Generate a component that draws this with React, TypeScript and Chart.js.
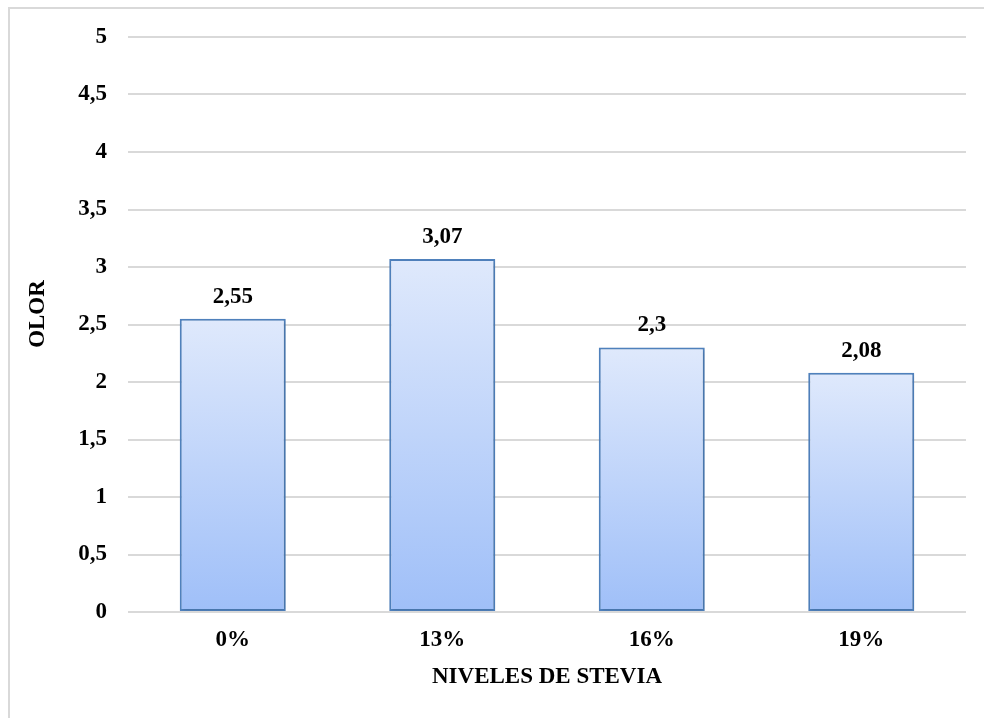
import React, { useEffect, useRef } from "react";
import { Chart, registerables } from "chart.js";

Chart.register(...registerables);

const categories = ["0%", "13%", "16%", "19%"];
const olorValues = [2.55, 3.07, 2.3, 2.08];
const valueLabels = ["2,55", "3,07", "2,3", "2,08"];
const yTitle = "OLOR";
const xTitle = "NIVELES DE STEVIA";

const FONT = "'Liberation Serif', 'Times New Roman', serif";

const dataLabelPlugin = {
  id: "dataLabels",
  beforeDatasetsDraw(chart: any) {
    const { ctx } = chart;
    ctx.save();
    ctx.shadowColor = "rgba(0,0,0,0.18)";
    ctx.shadowBlur = 3;
    ctx.shadowOffsetX = 1;
    ctx.shadowOffsetY = 1;
  },
  afterDatasetsDraw(chart: any) {
    const { ctx } = chart;
    ctx.restore();
    const meta = chart.getDatasetMeta(0);
    ctx.save();
    ctx.font = `bold 23px ${FONT}`;
    ctx.fillStyle = "#000";
    ctx.textAlign = "center";
    ctx.textBaseline = "middle";
    meta.data.forEach((bar: any, i: number) => {
      ctx.fillText(valueLabels[i], bar.x, bar.y - 22);
    });
    // y axis title
    ctx.translate(38, 314);
    ctx.rotate(-Math.PI / 2);
    ctx.fillText(yTitle, 0, 0);
    ctx.restore();
  },
};

export default function App() {
  const ref = useRef<HTMLCanvasElement | null>(null);
  useEffect(() => {
    if (!ref.current) return;
    const chart = new Chart(ref.current, {
      type: "bar",
      data: {
        labels: categories,
        datasets: [
          {
            data: olorValues,
            backgroundColor: (c: any) => {
              const ch = c.chart;
              if (!ch.chartArea || !ch.scales.y || c.parsed == null) return "#c0d4fa";
              const yTop = ch.scales.y.getPixelForValue(c.parsed.y);
              const yBot = ch.scales.y.getPixelForValue(0);
              const g = ch.ctx.createLinearGradient(0, yTop, 0, yBot);
              g.addColorStop(0, "#dfe9fc");
              g.addColorStop(1, "#9fbff8");
              return g;
            },
            borderColor: "#4f81bd",
            borderWidth: 2,
            borderSkipped: false,
            barPercentage: 0.506,
            categoryPercentage: 1,
          },
        ],
      },
      options: {
        responsive: false,
        animation: false,
        devicePixelRatio: 1,
        layout: { padding: { left: 0, right: 18, top: 37, bottom: 10 } },
        plugins: { legend: { display: false }, tooltip: { enabled: false } },
        scales: {
          x: {
            grid: { display: false, drawTicks: false },
            border: { display: false },
            ticks: {
              padding: 14,
              color: "#000",
              font: { family: FONT, size: 23, weight: "bold" },
            },
            title: {
              display: true,
              text: xTitle,
              color: "#000",
              font: { family: FONT, size: 23, weight: "bold" },
              padding: { top: 0, bottom: 17 },
            },
            afterFit: (s: any) => {
              s.height = 96;
            },
          },
          y: {
            min: 0,
            max: 5,
            grid: { color: "#d9d9d9", lineWidth: 2, drawTicks: false },
            border: { display: false },
            ticks: {
              stepSize: 0.5,
              padding: 21,
              color: "#000",
              font: { family: FONT, size: 23, weight: "bold" },
              callback: (v: any) => String(v).replace(".", ","),
            },
            afterFit: (s: any) => {
              s.width = 128;
            },
          },
        },
      },
      plugins: [dataLabelPlugin],
    });
    return () => chart.destroy();
  }, []);

  return (
    <div style={{ position: "fixed", left: 0, top: 0, width: 984, height: 718, background: "#fff" }}>
      <div style={{ position: "absolute", left: 8, top: 7, width: 976, height: 2, background: "#d9d9d9" }} />
      <div style={{ position: "absolute", left: 8, top: 7, width: 2, height: 711, background: "#d9d9d9" }} />
      <canvas
        ref={ref}
        width={984}
        height={718}
        style={{ position: "absolute", left: 0, top: 0, width: 984, height: 718 }}
      />
    </div>
  );
}
